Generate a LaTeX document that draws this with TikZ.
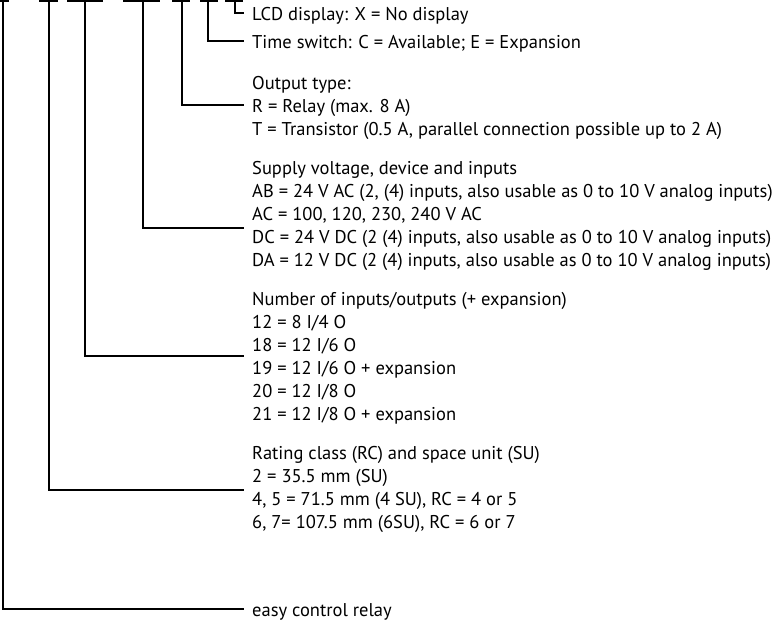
\documentclass[tikz,border=0pt]{standalone}
\usepackage{fontspec}
\setmainfont{PT Sans}
\usetikzlibrary{positioning}

\begin{document}
\begin{tikzpicture}[x=1pt,y=-1pt,
    row/.style={anchor=west,inner xsep=8pt,inner ysep=0pt,
      text height=15pt,text depth=0pt,
      font=\fontsize{18.5}{22}\selectfont},
    lead/.style={line width=2.5pt,line join=miter}]

    \useasboundingbox (0,0) rectangle (783,624);

    % places of the type code
    \foreach \a/\b in {0/9,39/58,67/103,123/160,172/190,200/218,225/243}
        \draw[lead] (\a,1.2) -- (\b,1.2);

    \coordinate (k1) at (3,0);
    \coordinate (k2) at (49,0);
    \coordinate (k3) at (85,0);
    \coordinate (k4) at (143,0);
    \coordinate (k5) at (182,0);
    \coordinate (k6) at (208,0);
    \coordinate (k7) at (235,0);

    \node[row] (lcd) at (244,13) {LCD display: X = No display};
    \node[row] (tsw) at (244,41) {Time switch: C = Available; E = Expansion};

    \node[row] (out) at (244,82) {Output type:};
    \node[row] (outR) at (244,105) {R = Relay (max. 8 A)};
    \node[row] (outT) at (244,128) {T = Transistor (0.5 A, parallel connection possible up to 2 A)};

    \node[row] (sup) at (244,167) {Supply voltage, device and inputs};
    \node[row] (supAB) at (244,190) {AB = 24 V AC (2, (4) inputs, also usable as 0 to 10 V analog inputs)};
    \node[row] (supAC) at (244,213) {AC = 100, 120, 230, 240 V AC};
    \node[row] (supDC) at (244,236) {DC = 24 V DC (2 (4) inputs, also usable as 0 to 10 V analog inputs)};
    \node[row] (supDA) at (244,259) {DA = 12 V DC (2 (4) inputs, also usable as 0 to 10 V analog inputs)};

    \node[row] (io) at (244,298) {Number of inputs/outputs (+ expansion)};
    \node[row] (io12) at (244,321) {12 = 8 I/4 O};
    \node[row] (io18) at (244,344) {18 = 12 I/6 O};
    \node[row] (io19) at (244,367) {19 = 12 I/6 O + expansion};
    \node[row] (io20) at (244,390) {20 = 12 I/8 O};
    \node[row] (io21) at (244,413) {21 = 12 I/8 O + expansion};

    \node[row] (rc) at (244,452) {Rating class (RC) and space unit (SU)};
    \node[row] (rc2) at (244,475) {2 = 35.5 mm (SU)};
    \node[row] (rc45) at (244,498) {4, 5 = 71.5 mm (4 SU), RC = 4 or 5};
    \node[row] (rc67) at (244,521) {6, 7= 107.5 mm (6SU), RC = 6 or 7};

    \node[row] (easy) at (244,609) {easy control relay};

    \coordinate (supIn) at (244,228);
    \coordinate (ioIn) at (244,356);
    \coordinate (rcIn) at (244,490);

    \draw[lead] (k7) |- (lcd.west);
    \draw[lead] (k6) |- (tsw.west);
    \draw[lead] (k5) |- (outR.west);
    \draw[lead] (k4) |- (supIn);
    \draw[lead] (k3) |- (ioIn);
    \draw[lead] (k2) |- (rcIn);
    \draw[lead] (k1) |- (easy.west);

\end{tikzpicture}
\end{document}
